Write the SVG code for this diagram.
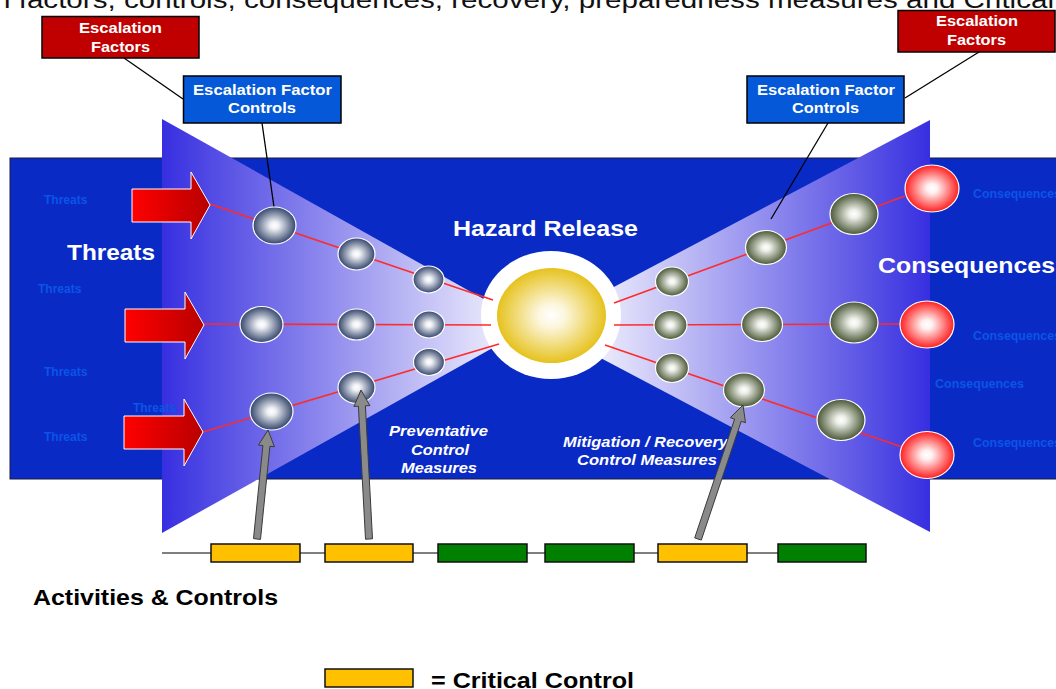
<svg xmlns="http://www.w3.org/2000/svg" width="1056" height="689" viewBox="0 0 1056 689">
<defs>
<style>
.bold{font-family:"Liberation Sans",Arial,sans-serif;font-weight:bold}
.wt{fill:#ffffff}
.faint{fill:#0a55e6;font-size:12px}
.big{font-size:22px}
.box{stroke:#000;stroke-width:1.5}
.red{fill:#c00000}
.blue{fill:#0558d8}
.btxt{font-size:15px;fill:#fff;text-anchor:middle}
.lnk{stroke:#ff2a2a;stroke-width:1.6;fill:none}
.lead{stroke:#000;stroke-width:1.3;fill:none}
.garrow{fill:#8a8a8a;stroke:#3a3a3a;stroke-width:1}
.tarrow{fill:url(#gThreat);stroke:#fff;stroke-width:1}
.ctl{stroke:#111;stroke-width:1.5}
.cc{fill:#ffc000}
.ok{fill:#008000}
.it{font-size:14px;font-style:italic;fill:#fff;text-anchor:middle}
.sB{fill:url(#gB);stroke:#fff;stroke-width:1.2}
.sO{fill:url(#gO);stroke:#fff;stroke-width:1.2}
.sR{fill:url(#gR);stroke:#fff;stroke-width:1.2}
</style>
<linearGradient id="gL" gradientUnits="userSpaceOnUse" x1="162" y1="0" x2="535" y2="0">
<stop offset="0" stop-color="#372fe0"/><stop offset="1" stop-color="#ffffff"/>
</linearGradient>
<linearGradient id="gRw" gradientUnits="userSpaceOnUse" x1="565" y1="0" x2="930" y2="0">
<stop offset="0" stop-color="#ffffff"/><stop offset="1" stop-color="#372fe0"/>
</linearGradient>
<linearGradient id="gThreat" x1="0" y1="0" x2="1" y2="0">
<stop offset="0" stop-color="#ff0000"/><stop offset="1" stop-color="#b80000"/>
</linearGradient>
<radialGradient id="gB" cx="0.5" cy="0.5" r="0.5">
<stop offset="0" stop-color="#ffffff"/><stop offset="0.2" stop-color="#eef0f4"/><stop offset="1" stop-color="#34466c"/>
</radialGradient>
<radialGradient id="gO" cx="0.5" cy="0.5" r="0.5">
<stop offset="0" stop-color="#ffffff"/><stop offset="0.2" stop-color="#eef0ea"/><stop offset="1" stop-color="#4a5836"/>
</radialGradient>
<radialGradient id="gR" cx="0.5" cy="0.5" r="0.5">
<stop offset="0" stop-color="#ffffff"/><stop offset="0.2" stop-color="#fff0f0"/><stop offset="1" stop-color="#ff1f1f"/>
</radialGradient>
<radialGradient id="gY" cx="0.5" cy="0.5" r="0.5">
<stop offset="0" stop-color="#ffffff"/><stop offset="0.25" stop-color="#fcf6dc"/><stop offset="1" stop-color="#e6c21e"/>
</radialGradient>
</defs>

<rect width="1056" height="689" fill="#ffffff"/>
<text x="-6" y="8" font-family="Liberation Sans,Arial,sans-serif" font-size="23" fill="#111" textLength="1060" lengthAdjust="spacingAndGlyphs">n factors, controls, consequences, recovery, preparedness measures and Critical</text>

<g id="background">
<rect x="10" y="158" width="1060" height="321" fill="#0a2ac6" stroke="#1a1a40" stroke-width="1"/>
<polygon points="162,119 532,326 162,533" fill="url(#gL)"/>
<polygon points="930,120 540,326 930,532" fill="url(#gRw)"/>
</g>

<g id="labels-faint" class="bold">
<text class="faint" x="44" y="204">Threats</text>
<text class="faint" x="38" y="293">Threats</text>
<text class="faint" x="44" y="376">Threats</text>
<text class="faint" x="133" y="412">Threats</text>
<text class="faint" x="44" y="441">Threats</text>
<text class="faint" x="973" y="198" textLength="88" lengthAdjust="spacingAndGlyphs">Consequences</text>
<text class="faint" x="973" y="340" textLength="88" lengthAdjust="spacingAndGlyphs">Consequences</text>
<text class="faint" x="935" y="388" textLength="89" lengthAdjust="spacingAndGlyphs">Consequences</text>
<text class="faint" x="973" y="447" textLength="88" lengthAdjust="spacingAndGlyphs">Consequences</text>
</g>

<g id="hazard">
<ellipse cx="551" cy="315" rx="70" ry="64" fill="#ffffff"/>
<ellipse cx="551.5" cy="315.5" rx="54.5" ry="47.5" fill="url(#gY)"/>
<text class="bold wt big" x="453" y="236" textLength="185" lengthAdjust="spacingAndGlyphs">Hazard Release</text>
</g>

<g id="connectors">
<line class="lnk" x1="210" y1="204" x2="493" y2="300"/>
<line class="lnk" x1="204" y1="324" x2="491" y2="325"/>
<line class="lnk" x1="203" y1="432" x2="499" y2="344"/>
<line class="lnk" x1="614" y1="303" x2="905" y2="196"/>
<line class="lnk" x1="614" y1="325" x2="900" y2="324"/>
<line class="lnk" x1="605" y1="345" x2="902" y2="447"/>
<line class="lead" x1="124" y1="58" x2="183" y2="99"/>
<line class="lead" x1="262" y1="123" x2="274" y2="207"/>
<line class="lead" x1="979" y1="52" x2="905" y2="98"/>
<line class="lead" x1="828" y1="123" x2="771" y2="219"/>
<line x1="162" y1="553" x2="866" y2="553" stroke="#000" stroke-width="1.2"/>
</g>

<g id="threat-arrows">
<polygon class="tarrow" points="132,189 191,189 191,172 210,205 191,239 191,222 132,222"/>
<polygon class="tarrow" points="125,309 185,309 185,292 204,325 185,359 185,342 125,342"/>
<polygon class="tarrow" points="124,416 184,416 184,399 203,432 184,466 184,449 124,449"/>
</g>

<g id="threats-label"><text class="bold wt big" x="67" y="260" textLength="88" lengthAdjust="spacingAndGlyphs">Threats</text></g>
<g id="consequences-label"><text class="bold wt big" x="878" y="273" textLength="177" lengthAdjust="spacingAndGlyphs">Consequences</text></g>

<g id="prevent-nodes">
<ellipse class="sB" cx="274.5" cy="225.5" rx="21.5" ry="18.5"/>
<ellipse class="sB" cx="356.5" cy="254" rx="18.5" ry="16"/>
<ellipse class="sB" cx="428.5" cy="279.5" rx="15.5" ry="13.5"/>
<ellipse class="sB" cx="261.5" cy="324.5" rx="21.5" ry="18"/>
<ellipse class="sB" cx="356.5" cy="324.5" rx="18.5" ry="15.5"/>
<ellipse class="sB" cx="429" cy="324.5" rx="15.5" ry="13.5"/>
<ellipse class="sB" cx="271.5" cy="411.5" rx="21.5" ry="18.5"/>
<ellipse class="sB" cx="356.5" cy="387.5" rx="18.5" ry="16"/>
<ellipse class="sB" cx="429" cy="362" rx="15.5" ry="13.5"/>
</g>

<g id="mitigation-nodes">
<ellipse class="sO" cx="672" cy="281.5" rx="16.5" ry="14.5"/>
<ellipse class="sO" cx="766" cy="247.5" rx="20.5" ry="17"/>
<ellipse class="sO" cx="854" cy="214" rx="24" ry="20.5"/>
<ellipse class="sO" cx="670.5" cy="325" rx="16.5" ry="14.5"/>
<ellipse class="sO" cx="762" cy="324.5" rx="20.5" ry="17"/>
<ellipse class="sO" cx="854" cy="322.5" rx="24" ry="20.5"/>
<ellipse class="sO" cx="672" cy="368" rx="16.5" ry="14.5"/>
<ellipse class="sO" cx="744" cy="390" rx="20.5" ry="17"/>
<ellipse class="sO" cx="841" cy="420" rx="24" ry="20.5"/>
</g>

<g id="consequence-nodes">
<ellipse class="sR" cx="932" cy="188.5" rx="27" ry="23.5"/>
<ellipse class="sR" cx="927" cy="324.5" rx="27" ry="23.5"/>
<ellipse class="sR" cx="927" cy="455" rx="27" ry="23.5"/>
</g>

<g id="escalation-left" class="bold">
<rect class="box red" x="42" y="16.5" width="157" height="41.5"/>
<text class="btxt" x="120.5" y="33" textLength="83" lengthAdjust="spacingAndGlyphs">Escalation</text>
<text class="btxt" x="120.5" y="52" textLength="59" lengthAdjust="spacingAndGlyphs">Factors</text>
</g>
<g id="efc-left" class="bold">
<rect class="box blue" x="183.5" y="76" width="157.5" height="47"/>
<text class="btxt" x="262.5" y="95" textLength="139" lengthAdjust="spacingAndGlyphs">Escalation Factor</text>
<text class="btxt" x="262" y="113" textLength="68" lengthAdjust="spacingAndGlyphs">Controls</text>
</g>
<g id="escalation-right" class="bold">
<rect class="box red" x="898" y="10.5" width="157" height="41.5"/>
<text class="btxt" x="977" y="26" textLength="82" lengthAdjust="spacingAndGlyphs">Escalation</text>
<text class="btxt" x="976.5" y="45" textLength="59" lengthAdjust="spacingAndGlyphs">Factors</text>
</g>
<g id="efc-right" class="bold">
<rect class="box blue" x="747" y="76" width="157" height="47"/>
<text class="btxt" x="826" y="95" textLength="138" lengthAdjust="spacingAndGlyphs">Escalation Factor</text>
<text class="btxt" x="825.5" y="113" textLength="67" lengthAdjust="spacingAndGlyphs">Controls</text>
</g>

<g id="measure-labels" class="bold">
<text class="it" x="438.5" y="436" textLength="99" lengthAdjust="spacingAndGlyphs">Preventative</text>
<text class="it" x="440" y="455" textLength="58" lengthAdjust="spacingAndGlyphs">Control</text>
<text class="it" x="439" y="473" textLength="76" lengthAdjust="spacingAndGlyphs">Measures</text>
<text class="it" x="645.5" y="447" textLength="165" lengthAdjust="spacingAndGlyphs">Mitigation / Recovery</text>
<text class="it" x="647" y="465" textLength="140" lengthAdjust="spacingAndGlyphs">Control Measures</text>
</g>

<g id="activity-bar">
<rect class="ctl cc" x="211" y="544" width="89" height="18"/>
<rect class="ctl cc" x="325" y="544" width="88" height="18"/>
<rect class="ctl ok" x="438" y="544" width="89" height="18"/>
<rect class="ctl ok" x="545" y="544" width="89" height="18"/>
<rect class="ctl cc" x="658" y="544" width="89" height="18"/>
<rect class="ctl ok" x="778" y="544" width="88" height="18"/>
</g>

<g id="control-arrows">
<polygon class="garrow" points="253.5,538.6 262.9,445.5 258.4,445.1 268,430 274.4,446.7 269.9,446.3 260.5,539.4"/>
<polygon class="garrow" points="365.5,539.2 358.4,406.2 353.9,406.4 361,390 369.9,405.6 365.4,405.8 372.5,538.8"/>
<polygon class="garrow" points="694.7,537.9 734.6,419.1 730.3,417.7 743,405 745.5,422.7 741.2,421.3 701.3,540.1"/>
</g>

<g id="activities-label"><text class="bold big" x="33" y="605" fill="#000" textLength="245" lengthAdjust="spacingAndGlyphs">Activities &amp; Controls</text></g>

<g id="legend">
<rect class="ctl cc" x="325" y="669" width="88" height="18"/>
<text class="bold big" x="431" y="688" fill="#000" textLength="203" lengthAdjust="spacingAndGlyphs">= Critical Control</text>
</g>
</svg>
